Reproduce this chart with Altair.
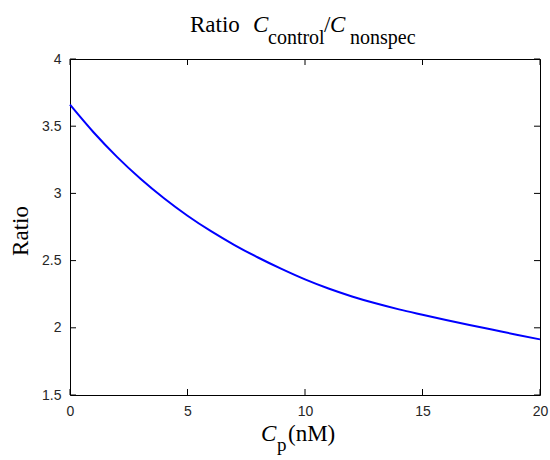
import altair as alt
import pandas as pd

# Data
cp_nM = [0, 1, 2, 3, 4, 5, 6, 7, 8, 9, 10, 11, 12, 13, 14, 15, 16, 17, 18, 19, 20]
ratio = [3.660, 3.455, 3.272, 3.109, 2.964, 2.834, 2.719, 2.616, 2.523, 2.438, 2.360,
         2.292, 2.233, 2.182, 2.137, 2.097, 2.058, 2.021, 1.985, 1.949, 1.914]
x_ticks = [0, 5, 10, 15, 20]
y_ticks = [1.5, 2, 2.5, 3, 3.5, 4]

title_main = "Ratio"
title_c = "C"
title_sub1 = "control"
title_slash = "/"
title_sub2 = "nonspec"
xlabel_c = "C"
xlabel_sub = "p"
xlabel_unit = "(nM)"
ylabel = "Ratio"

W, H = 470, 336
xscale = alt.Scale(domain=[0, 20], nice=False, zero=False)
yscale = alt.Scale(domain=[1.5, 4], nice=False, zero=False)

df = pd.DataFrame({"x": cp_nM, "y": ratio})
xt = pd.DataFrame({"v": x_ticks})
yt = pd.DataFrame({"v": y_ticks})

label_font = "Liberation Sans"
label_color = "#262626"
serif = "Liberation Serif"

line = alt.Chart(df).mark_line(color="#0000FF", strokeWidth=2, interpolate="monotone").encode(
    x=alt.X("x:Q", scale=xscale,
            axis=alt.Axis(values=x_ticks, title=None, grid=False, domain=False, ticks=False,
                          tickSize=0, labelPadding=9, labelFont=label_font, labelFontSize=14,
                          labelColor=label_color, labelFlush=False, format="~g")),
    y=alt.Y("y:Q", scale=yscale,
            axis=alt.Axis(values=y_ticks, title=None, grid=False, domain=False, ticks=False,
                          tickSize=0, labelPadding=9, labelFont=label_font, labelFontSize=14,
                          labelColor=label_color, labelFlush=False, format="~g")),
)

tick_len = 6
bottom_ticks = alt.Chart(xt).mark_rule(color="black", strokeWidth=1).encode(
    x=alt.X("v:Q", scale=xscale), y=alt.value(H - tick_len), y2=alt.value(H))
top_ticks = alt.Chart(xt).mark_rule(color="black", strokeWidth=1).encode(
    x=alt.X("v:Q", scale=xscale), y=alt.value(0), y2=alt.value(tick_len))
left_ticks = alt.Chart(yt).mark_rule(color="black", strokeWidth=1).encode(
    y=alt.Y("v:Q", scale=yscale), x=alt.value(0), x2=alt.value(tick_len))
right_ticks = alt.Chart(yt).mark_rule(color="black", strokeWidth=1).encode(
    y=alt.Y("v:Q", scale=yscale), x=alt.value(W - tick_len), x2=alt.value(W))


def txt(s, x, y, size, italic=False, angle=0, align="left"):
    kw = dict(font=serif, fontSize=size, align=align,
              baseline="alphabetic", color="black")
    if italic:
        kw["fontStyle"] = "italic"
    if angle:
        kw["angle"] = angle
    return alt.Chart(alt.Data(values=[{"t": s}])).mark_text(**kw).encode(
        x=alt.value(x), y=alt.value(y), text="t:N")


texts = [
    txt(title_main, 120, -27, 23),
    txt(title_c, 183, -27, 23, italic=True),
    txt(title_sub1, 198, -15, 20),
    txt(title_slash, 254, -27, 23),
    txt(title_c, 260, -27, 23, italic=True),
    txt(title_sub2, 280, -15, 20),
    txt(xlabel_c, 191, 382, 23, italic=True),
    txt(xlabel_sub, 207, 392, 19),
    txt(xlabel_unit, 218, 382, 23),
    txt(ylabel, -42, 172, 23, angle=270, align="center"),
]

chart = alt.layer(line, bottom_ticks, top_ticks, left_ticks, right_ticks, *texts).properties(
    width=W, height=H,
    autosize=alt.AutoSizeParams(type="none"),
    padding={"left": 70, "top": 59, "right": 10, "bottom": 65},
    background="white",
).configure_view(stroke="black", strokeWidth=1)

chart.save("out.html", embed_options={"renderer": "svg", "actions": False})
